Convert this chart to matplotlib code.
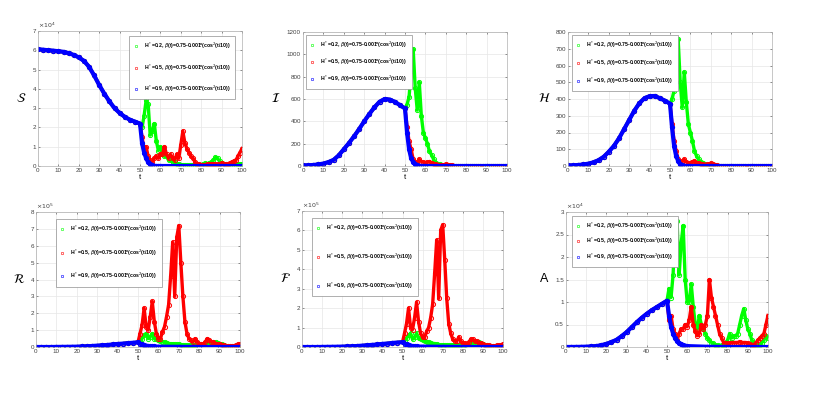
import matplotlib
matplotlib.use("Agg")
import matplotlib.pyplot as plt
import numpy as np

plt.rcParams['font.family'] = ['Liberation Sans', 'DejaVu Sans']

# common time grid before the switch at t=50 (deterministic part, same for all three runs)
t_pre = [0, 2.5, 5, 7.5, 10, 12.5, 15, 17.5, 20, 22.5, 25, 27.5, 30, 32.5, 35, 37.5, 40,
         42.5, 45, 47.5, 50]
# stochastic part after t=50
t_post = list(range(50, 101))
# blue run dies out quickly, so fewer points
t_blue = [50, 51, 52, 53, 54, 55, 56, 57, 58, 59, 60, 70, 80, 90, 100]

legend_labels = [
    r'H$^*$=0.2, $\beta$(t)=0.75-0.001*(cos$^2$(t/10))',
    r'H$^*$=0.5, $\beta$(t)=0.75-0.001*(cos$^2$(t/10))',
    r'H$^*$=0.9, $\beta$(t)=0.75-0.001*(cos$^2$(t/10))',
]

# ---- S (x10^4)
S_pre = [6.05, 6.03, 6.0, 5.98, 5.95, 5.92, 5.85, 5.76, 5.63, 5.45, 5.15, 4.7, 4.2, 3.75,
         3.35, 3.0, 2.75, 2.55, 2.4, 2.3, 2.2]
S_green = [2.2, 2.0, 2.6, 3.4, 3.2, 1.6, 1.8, 2.2, 1.3, 0.8, 1.0, 0.7, 0.5, 0.5, 0.3, 0.3, 0.2,
           0.2, 0.1, 0.08, 0.05, 0.05, 0.04, 0.04, 0.03, 0.03, 0.03, 0.03, 0.04, 0.05, 0.05,
           0.1, 0.15, 0.1, 0.15, 0.2, 0.3, 0.45, 0.4, 0.25, 0.15, 0.1, 0.08, 0.05, 0.05, 0.05,
           0.05, 0.05, 0.08, 0.1, 0.12]
S_red = [2.2, 1.5, 0.9, 1.0, 0.5, 0.3, 0.2, 0.4, 0.5, 0.4, 0.6, 0.6, 1.0, 0.6, 0.4, 0.6, 0.4,
         0.3, 0.6, 0.4, 1.1, 1.8, 1.2, 0.9, 0.7, 0.5, 0.4, 0.2, 0.1, 0.08, 0.05, 0.05, 0.06,
         0.08, 0.1, 0.1, 0.12, 0.1, 0.1, 0.12, 0.15, 0.12, 0.1, 0.12, 0.15, 0.2, 0.25, 0.3,
         0.5, 0.7, 0.9]
S_blue = [2.2, 1.2, 0.7, 0.4, 0.2, 0.1, 0.03, 0.01, 0, 0, 0, 0, 0, 0, 0]

# ---- I
I_pre = [5, 6, 9, 14, 22, 35, 55, 95, 150, 205, 265, 330, 400, 465, 525, 575, 600, 595, 575,
         545, 515]
I_green = [515, 550, 620, 850, 1050, 700, 500, 750, 450, 300, 250, 200, 130, 100, 60, 30, 20,
           15, 10, 8, 5, 4, 3, 2, 1, 0, 0, 0, 0, 0, 0, 0, 0, 0, 0, 0, 0, 0, 0, 0, 0, 0, 0, 0,
           0, 0, 0, 0, 0, 0, 0]
I_red = [560, 350, 220, 150, 60, 40, 30, 60, 40, 35, 30, 35, 40, 30, 20, 15, 10, 8, 10, 12,
         15, 12, 10, 6, 3, 1, 0, 0, 0, 0, 0, 0, 0, 0, 0, 0, 0, 0, 0, 0, 0, 0, 0, 0, 0, 0, 0,
         0, 0, 0, 0]
I_blue = [515, 300, 150, 70, 35, 15, 5, 2, 0, 0, 0, 0, 0, 0, 0]

# ---- H
H_pre = [3, 4, 6, 9, 14, 22, 35, 55, 85, 120, 165, 220, 275, 330, 375, 405, 417, 418, 405,
         390, 372]
H_green = [372, 400, 450, 650, 760, 500, 350, 560, 380, 250, 200, 150, 90, 60, 40, 25, 15,
           10, 8, 6, 5, 3, 2, 1, 1, 0, 0, 0, 0, 0, 0, 0, 0, 0, 0, 0, 0, 0, 0, 0, 0, 0, 0, 0,
           0, 0, 0, 0, 0, 0, 0]
H_red = [410, 250, 150, 90, 40, 30, 25, 40, 25, 20, 20, 25, 30, 20, 15, 12, 10, 8, 10, 12,
         15, 10, 8, 5, 2, 1, 0, 0, 0, 0, 0, 0, 0, 0, 0, 0, 0, 0, 0, 0, 0, 0, 0, 0, 0, 0, 0,
         0, 0, 0, 0]
H_blue = [372, 230, 120, 60, 30, 10, 3, 1, 0, 0, 0, 0, 0, 0, 0]

# ---- R (x10^5)
R_pre = [0, 0, 0, 0, 0.005, 0.008, 0.01, 0.015, 0.02, 0.03, 0.04, 0.06, 0.08, 0.1, 0.12,
         0.15, 0.18, 0.2, 0.23, 0.25, 0.28]
R_green = [0.3, 0.4, 0.5, 0.7, 0.8, 0.5, 0.6, 0.8, 0.5, 0.45, 0.4, 0.35, 0.3, 0.3, 0.25,
           0.2, 0.2, 0.18, 0.15, 0.15, 0.15, 0.12, 0.1, 0.1, 0.1, 0.1, 0.1, 0.12, 0.12, 0.15,
           0.15, 0.15, 0.18, 0.2, 0.2, 0.2, 0.25, 0.3, 0.3, 0.25, 0.2, 0.15, 0.1, 0.08, 0.06,
           0.05, 0.03, 0.02, 0.01, 0.0, 0.0]
R_red = [0.3, 0.8, 1.3, 2.3, 1.2, 1.0, 1.8, 2.7, 1.5, 0.8, 0.5, 0.5, 0.9, 1.2, 1.8, 2.5, 4.2,
         6.2, 3.0, 6.5, 7.2, 5.0, 3.0, 1.5, 0.8, 0.5, 0.4, 0.3, 0.5, 0.3, 0.2, 0.2, 0.15, 0.3,
         0.5, 0.4, 0.3, 0.3, 0.2, 0.2, 0.15, 0.1, 0.1, 0.08, 0.06, 0.05, 0.05, 0.08, 0.1,
         0.15, 0.2]
R_blue = [0.28, 0.2, 0.15, 0.1, 0.08, 0.06, 0.04, 0.03, 0.03, 0.02, 0.02, 0.01, 0, 0, 0]

# ---- F (x10^5)
F_pre = [0, 0, 0, 0, 0.004, 0.007, 0.01, 0.014, 0.02, 0.027, 0.035, 0.05, 0.07, 0.09, 0.11,
         0.13, 0.16, 0.18, 0.21, 0.23, 0.25]
F_green = [0.25, 0.35, 0.45, 0.6, 0.7, 0.4, 0.5, 0.7, 0.45, 0.4, 0.35, 0.3, 0.25, 0.25, 0.2,
           0.18, 0.18, 0.15, 0.12, 0.12, 0.12, 0.1, 0.1, 0.1, 0.08, 0.08, 0.08, 0.1, 0.1,
           0.12, 0.12, 0.12, 0.15, 0.15, 0.18, 0.18, 0.2, 0.25, 0.25, 0.2, 0.15, 0.12, 0.08,
           0.06, 0.05, 0.04, 0.03, 0.02, 0.01, 0, 0]
F_red = [0.3, 0.7, 1.2, 2.0, 1.0, 0.9, 1.5, 2.3, 1.3, 0.7, 0.5, 0.5, 0.8, 1.0, 1.5, 2.2, 3.8,
         5.5, 2.5, 6.0, 6.3, 4.5, 2.5, 1.2, 0.7, 0.4, 0.3, 0.3, 0.5, 0.3, 0.2, 0.2, 0.15,
         0.25, 0.4, 0.4, 0.3, 0.3, 0.2, 0.2, 0.15, 0.1, 0.1, 0.08, 0.05, 0.05, 0.05, 0.08,
         0.1, 0.12, 0.15]
F_blue = [0.25, 0.18, 0.13, 0.09, 0.07, 0.05, 0.04, 0.03, 0.02, 0.02, 0.02, 0.01, 0, 0, 0]

# ---- A (x10^4)
A_pre = [0, 0.001, 0.002, 0.004, 0.007, 0.012, 0.02, 0.04, 0.07, 0.11, 0.16, 0.24, 0.33,
         0.44, 0.55, 0.65, 0.74, 0.82, 0.89, 0.96, 1.03]
A_green = [1.0, 1.3, 1.1, 1.6, 2.6, 2.8, 1.6, 2.3, 2.7, 1.5, 1.0, 1.0, 1.4, 0.9, 0.5, 0.4,
           0.7, 0.5, 0.4, 0.3, 0.2, 0.15, 0.1, 0.08, 0.05, 0.04, 0.03, 0.04, 0.05, 0.1, 0.15,
           0.3, 0.2, 0.25, 0.25, 0.3, 0.5, 0.7, 0.85, 0.6, 0.4, 0.3, 0.15, 0.1, 0.05, 0.05,
           0.05, 0.1, 0.15, 0.25, 0.2]
A_red = [1.05, 0.6, 0.7, 0.4, 0.3, 0.15, 0.3, 0.4, 0.4, 0.5, 0.45, 0.6, 0.9, 0.5, 0.35, 0.25,
         0.3, 0.5, 0.4, 0.5, 0.7, 1.5, 1.1, 0.9, 0.7, 0.5, 0.3, 0.2, 0.1, 0.1, 0.08, 0.08,
         0.1, 0.1, 0.1, 0.1, 0.12, 0.1, 0.1, 0.1, 0.08, 0.06, 0.05, 0.05, 0.1, 0.15, 0.2,
         0.25, 0.3, 0.5, 0.7]
A_blue = [1.03, 0.7, 0.45, 0.3, 0.2, 0.13, 0.08, 0.06, 0.04, 0.03, 0.02, 0.005, 0, 0, 0]

W, H = 819, 399
fig = plt.figure(figsize=(W / 100, H / 100), dpi=100)

# (pre, green, red, blue, ymax, ytick step, exponent, ylabel,
#  axes box in px (x0, y0, x1, y1), legend anchor, legend loc, label spacing)
panels = [
    (S_pre, S_green, S_red, S_blue, 7, 1, 4, r'$\mathcal{S}$', (38, 31, 242, 166),
     (0.98, 0.985), 'upper right', 2.2),
    (I_pre, I_green, I_red, I_blue, 1200, 200, None, r'$\mathcal{I}$', (303, 32, 507, 166),
     (0.0, 1.0), 'upper left', 1.3),
    (H_pre, H_green, H_red, H_blue, 800, 100, None, r'$\mathcal{H}$', (568, 32, 772, 166),
     (0.005, 1.0), 'upper left', 1.5),
    (R_pre, R_green, R_red, R_blue, 8, 1, 5, r'$\mathcal{R}$', (36, 212, 240, 347),
     (0.083, 0.97), 'upper left', 2.6),
    (F_pre, F_green, F_red, F_blue, 7, 1, 5, r'$\mathcal{F}$', (302, 211, 503, 347),
     (0.035, 0.97), 'upper left', 3.6),
    (A_pre, A_green, A_red, A_blue, 3, 0.5, 4, 'A', (566, 212, 768, 347),
     (0.015, 0.993), 'upper left', 1.0),
]

for pre, g, r, b, ymax, step, expo, ylab, box, anchor, loc, lsp in panels:
    x0, y0, x1, y1 = box
    ax = fig.add_axes([x0 / W, (H - y1) / H, (x1 - x0) / W, (y1 - y0) / H])
    style = dict(marker='o', mfc='none', markersize=3.0, mew=0.7, lw=2.4)
    ax.plot(t_pre + t_post[1:], pre + g[1:], color=(0, 1, 0), label=legend_labels[0], **style)
    ax.plot(t_pre + t_post[1:], pre + r[1:], color=(1, 0, 0), label=legend_labels[1], **style)
    ax.plot(t_pre + t_blue[1:], pre + b[1:], color=(0, 0, 1), label=legend_labels[2],
            marker='o', mfc='none', markersize=3.0, mew=0.8, lw=3.0)
    ax.set_xlim(0, 100)
    ax.set_ylim(0, ymax)
    ax.set_xticks(np.arange(0, 101, 10))
    ax.set_yticks(np.arange(0, ymax + step / 2, step))
    if step < 1:
        ax.set_yticklabels([('%g' % v) for v in np.arange(0, ymax + step / 2, step)])
    ax.grid(True, color='#e6e6e6', lw=0.5)
    ax.set_axisbelow(True)
    for sp in ax.spines.values():
        sp.set_color('#b0b0b0')
        sp.set_linewidth(0.5)
    ax.tick_params(labelsize=4.5, colors='#404040', length=1.5, width=0.4, pad=1.5,
                   direction='in', top=True, right=True)
    ax.set_xlabel('t', fontsize=5.5, labelpad=1)
    ax.set_ylabel(ylab, fontsize=9, rotation=0, labelpad=8, va='center')
    if expo is not None:
        ax.text(0.0, 1.01, r'$\times10^{%d}$' % expo, transform=ax.transAxes,
                fontsize=4.5, color='#404040', va='bottom', ha='left')
    leg = ax.legend(loc=loc, bbox_to_anchor=anchor, labelspacing=lsp, markerscale=0.6,
                    handlelength=0.6, handletextpad=1.2, borderpad=1.0, fancybox=False,
                    prop={'size': 3.7, 'weight': 'bold'}, framealpha=1)
    leg.get_frame().set_edgecolor('#909090')
    leg.get_frame().set_linewidth(0.5)
    for h in leg.legend_handles:
        h.set_linestyle('none')
        h.set_markeredgewidth(0.4)

fig.savefig('out.png', dpi=100)
